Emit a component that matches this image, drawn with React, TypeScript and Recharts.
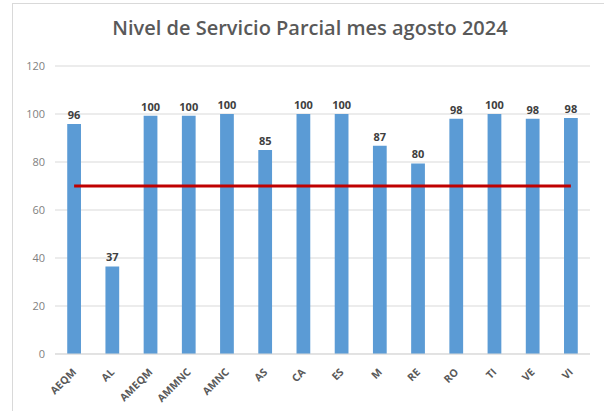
import React from "react";
import { ComposedChart, Bar, Line, XAxis, YAxis, CartesianGrid, LabelList } from "recharts";

const categories = ["AEQM", "AL", "AMEQM", "AMMNC", "AMNC", "AS", "CA", "ES", "M", "RE", "RO", "TI", "VE", "VI"];
const values = [95.8, 36.5, 99.3, 99.3, 100, 85, 100, 100, 86.8, 79.4, 98, 100, 98, 98.3];
const valueLabels = ["96", "37", "100", "100", "100", "85", "100", "100", "87", "80", "98", "100", "98", "98"];
const target = 70;
const yTicks = [0, 20, 40, 60, 80, 100, 120];

const data = categories.map((c, i) => ({ name: c, value: values[i], label: valueLabels[i], target }));

const XTick = (props: any) => {
  const { x, y, payload } = props;
  return (
    <g transform={`translate(${x},${y + 8})`}>
      <text
        x={0}
        y={0}
        dy={4}
        textAnchor="end"
        transform="rotate(-45)"
        fontSize={10.5}
        fontWeight={700}
        fill="#595959"
        fontFamily="'Open Sans', sans-serif"
      >
        {payload.value}
      </text>
    </g>
  );
};

export default function App() {
  return (
    <div style={{ position: "absolute", left: 0, top: 0, width: 604, height: 411, background: "#fff", overflow: "hidden" }}>
      <div
        style={{
          position: "absolute",
          left: 12,
          top: 3,
          width: 600,
          height: 430,
          border: "1.5px solid #d9d9d9",
        }}
      />
      <div
        style={{
          position: "absolute",
          left: 0,
          top: 14,
          width: 620,
          textAlign: "center",
          fontFamily: "'Open Sans', sans-serif",
          fontSize: 20,
          fontWeight: 600,
          color: "#595959",
        }}
      >
        Nivel de Servicio Parcial mes agosto 2024
      </div>
      <div style={{ position: "absolute", left: 0, top: 0 }}>
        <ComposedChart
          width={604}
          height={411}
          data={data}
          margin={{ top: 66, right: 14, bottom: 0, left: 0 }}
          barCategoryGap="68%"
        >
          <CartesianGrid vertical={false} stroke="#d9d9d9" />
          <XAxis
            dataKey="name"
            interval={0}
            tickLine={false}
            axisLine={{ stroke: "#d9d9d9" }}
            height={57}
            tick={<XTick />}
          />
          <YAxis
            domain={[0, 120]}
            ticks={yTicks}
            width={55}
            axisLine={false}
            tickLine={false}
            tickMargin={4}
            tick={{ fontSize: 11, fill: "#7f7f7f", fontFamily: "'Open Sans', sans-serif" }}
          />
          <Bar dataKey="value" fill="#5b9bd5" isAnimationActive={false}>
            <LabelList
              dataKey="label"
              position="top"
              style={{ fontSize: 11, fontWeight: 700, fill: "#404040", fontFamily: "'Open Sans', sans-serif" }}
            />
          </Bar>
          <Line
            dataKey="target"
            stroke="#c00000"
            strokeWidth={3}
            dot={false}
            activeDot={false}
            isAnimationActive={false}
          />
        </ComposedChart>
      </div>
    </div>
  );
}
